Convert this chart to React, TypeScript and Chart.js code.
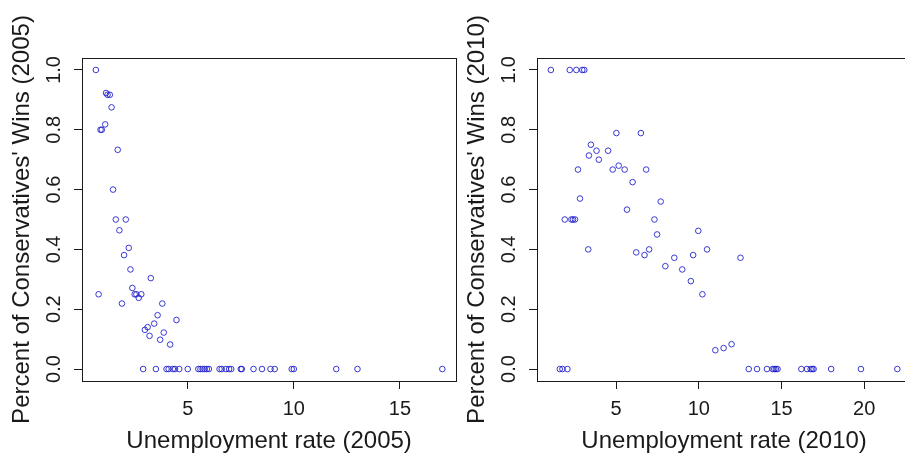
import React, { useEffect, useRef } from "react";
import { Chart, registerables } from "chart.js";

Chart.register(...registerables);

// ---- 2005 panel data ----
const unemp2005: number[] = [
  0.67, 1.15, 1.22, 1.33, 1.41, 1.11, 0.89, 0.95, 1.70, 1.48, 1.61, 2.08, 1.78, 2.22, 2.0, 2.30,
  3.26, 2.39, 0.80, 2.50, 2.58, 2.69, 2.81, 1.90, 3.80, 3.58, 3.42, 4.47, 2.98, 3.11, 3.2, 3.87,
  3.70, 4.17,
  2.9, 3.5, 4.0, 4.1, 4.3, 4.4, 4.6, 5.0, 5.5, 5.6, 5.7, 5.8, 5.9, 6.0, 6.5, 6.6, 6.8, 6.95, 7.05,
  7.5, 7.55, 8.1, 8.5, 8.9, 9.1, 9.9, 10.0, 12.0, 13.0, 17.0,
];
const wins2005: number[] = [
  1.0, 0.923, 0.917, 0.917, 0.875, 0.818, 0.8, 0.8, 0.733, 0.6, 0.5, 0.5, 0.464, 0.405, 0.381, 0.333,
  0.304, 0.271, 0.25, 0.25, 0.25, 0.238, 0.25, 0.219, 0.219, 0.18, 0.152, 0.164, 0.131, 0.14, 0.111, 0.122,
  0.098, 0.082,
  0, 0, 0, 0, 0, 0, 0, 0, 0, 0, 0, 0, 0, 0, 0, 0, 0, 0, 0,
  0, 0, 0, 0, 0, 0, 0, 0, 0, 0, 0,
];

// ---- 2010 panel data ----
const unemp2010: number[] = [
  1.06, 2.2, 2.6, 2.96, 3.08, 5.02, 6.5, 3.48, 3.82, 4.52, 3.36, 3.96, 2.7, 4.8, 5.52, 6.82,
  5.16, 6.0, 2.82, 7.7, 5.66, 1.9, 2.3, 2.4, 2.52, 7.32, 7.48, 9.97, 3.32, 6.22, 6.72, 7.0,
  7.98, 8.52, 9.0, 9.52, 9.66, 10.5, 12.52, 10.22, 11.0, 11.5, 11.98,
  1.6, 1.76, 2.06, 13.02, 13.52, 14.12, 14.46, 14.56, 14.66, 14.76, 16.2, 16.54, 16.76, 16.86,
  16.94, 18.0, 19.8, 22.0,
];
const wins2010: number[] = [
  1.0, 1.0, 1.0, 1.0, 1.0, 0.789, 0.789, 0.75, 0.73, 0.73, 0.714, 0.7, 0.667, 0.667, 0.667, 0.667,
  0.68, 0.625, 0.57, 0.56, 0.533, 0.5, 0.5, 0.5, 0.5, 0.5, 0.45, 0.462, 0.4, 0.39, 0.381, 0.4,
  0.344, 0.372, 0.333, 0.294, 0.381, 0.4, 0.372, 0.25, 0.063, 0.07, 0.083,
  0, 0, 0, 0, 0, 0, 0, 0, 0, 0, 0, 0, 0, 0,
  0, 0, 0, 0,
];

const xTicks2005: number[] = [5, 10, 15];
const xTicks2010: number[] = [5, 10, 15, 20];
const yTicks: number[] = [0, 0.2, 0.4, 0.6, 0.8, 1.0];
const yTickLabels: string[] = ["0.0", "0.2", "0.4", "0.6", "0.8", "1.0"];

const xTitle2005 = "Unemployment rate (2005)";
const xTitle2010 = "Unemployment rate (2010)";
const yTitle2005 = "Percent of Conservatives' Wins (2005)";
const yTitle2010 = "Percent of Conservatives' Wins (2010)";

const FONT = "Arial, 'Liberation Sans', sans-serif";
const INK = "#1a1a1a";
const POINT = "rgba(25, 25, 205, 0.85)";

function rRange(vals: number[]): [number, number] {
  const lo = Math.min(...vals);
  const hi = Math.max(...vals);
  const ext = (hi - lo) * 0.04;
  return [lo - ext, hi + ext];
}

const boxPlugin = {
  id: "rbox",
  afterDraw(chart: any) {
    const { ctx, chartArea } = chart;
    const { left, top, right, bottom } = chartArea;
    ctx.save();
    ctx.strokeStyle = INK;
    ctx.lineWidth = 1;
    ctx.strokeRect(Math.round(left) + 0.5, Math.round(top) + 0.5, Math.round(right - left), Math.round(bottom - top));
    ctx.restore();
  },
};

function makeConfig(xs: number[], ys: number[], xTicks: number[], xTitle: string, yTitle: string) {
  const [xmin, xmax] = rRange(xs);
  const [ymin, ymax] = rRange([0, 1]);
  return {
    type: "scatter" as const,
    data: {
      datasets: [
        {
          data: xs.map((x, i) => ({ x, y: ys[i] })),
          pointStyle: "circle",
          pointRadius: 2.8,
          pointHoverRadius: 2.8,
          borderWidth: 1,
          borderColor: POINT,
          backgroundColor: "rgba(0,0,0,0)",
        },
      ],
    },
    options: {
      responsive: false,
      animation: false as const,
      events: [],
      layout: { padding: { top: 58, right: 2, left: 0, bottom: 0 } },
      plugins: { legend: { display: false }, tooltip: { enabled: false } },
      scales: {
        x: {
          type: "linear" as const,
          min: xmin,
          max: xmax,
          afterBuildTicks: (scale: any) => {
            scale.ticks = xTicks.map((v) => ({ value: v }));
          },
          afterFit: (scale: any) => {
            scale.height = 80;
          },
          border: { display: false },
          grid: {
            drawOnChartArea: false,
            drawTicks: true,
            tickLength: 8,
            tickColor: INK,
            tickWidth: 1,
            color: INK,
          },
          ticks: {
            color: INK,
            padding: 8,
            maxRotation: 0,
            font: { family: FONT, size: 20 },
            callback: (v: any) => String(v),
          },
          title: {
            display: true,
            text: xTitle,
            color: INK,
            font: { family: FONT, size: 24 },
            padding: { top: 0, bottom: 5 },
          },
        },
        y: {
          type: "linear" as const,
          min: ymin,
          max: ymax,
          afterBuildTicks: (scale: any) => {
            scale.ticks = yTicks.map((v) => ({ value: v }));
          },
          afterFit: (scale: any) => {
            scale.width = 82;
          },
          border: { display: false },
          grid: {
            drawOnChartArea: false,
            drawTicks: true,
            tickLength: 8,
            tickColor: INK,
            tickWidth: 1,
            color: INK,
          },
          ticks: {
            color: INK,
            padding: 6,
            minRotation: 90,
            maxRotation: 90,
            crossAlign: "center" as const,
            font: { family: FONT, size: 20 },
            callback: (_v: any, i: number) => yTickLabels[i],
          },
          title: {
            display: true,
            text: yTitle,
            color: INK,
            font: { family: FONT, size: 24 },
            padding: { top: 8, bottom: 0 },
          },
        },
      },
    },
    plugins: [boxPlugin],
  };
}

function Panel(props: { xs: number[]; ys: number[]; xTicks: number[]; xTitle: string; yTitle: string; left: number }) {
  const ref = useRef<HTMLCanvasElement | null>(null);
  useEffect(() => {
    if (!ref.current) return;
    const chart = new Chart(ref.current, makeConfig(props.xs, props.ys, props.xTicks, props.xTitle, props.yTitle) as any);
    return () => chart.destroy();
  }, []);
  return (
    <canvas
      ref={ref}
      width={460}
      height={461}
      style={{ position: "absolute", left: props.left, top: 0, width: 460, height: 461 }}
    />
  );
}

export default function App() {
  return (
    <div
      style={{
        position: "fixed",
        left: 0,
        top: 0,
        width: 905,
        height: 461,
        overflow: "hidden",
        background: "#ffffff",
      }}
    >
      <Panel xs={unemp2005} ys={wins2005} xTicks={xTicks2005} xTitle={xTitle2005} yTitle={yTitle2005} left={0} />
      <Panel xs={unemp2010} ys={wins2010} xTicks={xTicks2010} xTitle={xTitle2010} yTitle={yTitle2010} left={455} />
    </div>
  );
}
